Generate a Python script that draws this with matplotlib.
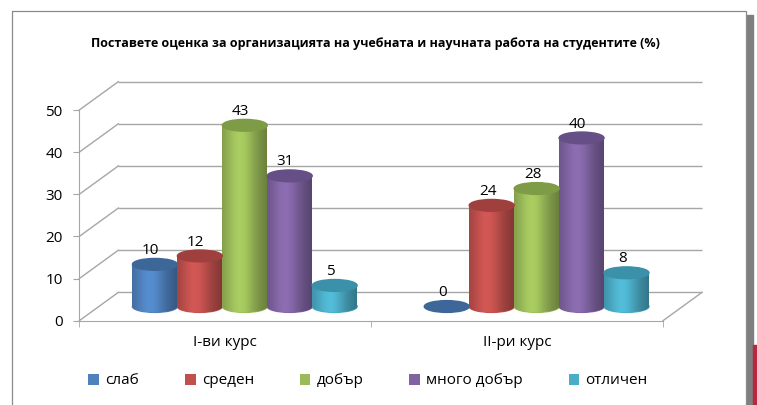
import numpy as np
import matplotlib.pyplot as plt
from matplotlib.patches import Ellipse, Patch, Rectangle
from matplotlib.lines import Line2D
from matplotlib.colors import to_rgb

plt.rcParams['font.family'] = ['Open Sans', 'DejaVu Sans']

title = 'Поставете оценка за организацията на учебната и научната работа на студентите (%)'
courses = ['I-ви курс', 'II-ри курс']
grades = ['слаб', 'среден', 'добър', 'много добър', 'отличен']
course1 = [10, 12, 43, 31, 5]
course2 = [0, 24, 28, 40, 8]
colors = ['#4F81BD', '#C0504D', '#9BBB59', '#8064A2', '#4BACC6']
tops = ['#3D6699', '#A0403E', '#7E9B45', '#664F86', '#3A91A9']
grid_col = '#a6a6a6'

W, H = 757, 405
fig = plt.figure(figsize=(W / 100, H / 100), dpi=100)
ax = fig.add_axes([79.3 / W, 84.3 / H, 583.7 / W, 210.7 / H])
ax.set_facecolor('none')

# depth offsets of back wall and of the bar row (data units)
bx, by = 0.134, 6.74
mx, my = bx / 2, by / 2
eh = 2.8     # ellipse height
w = 0.154    # bar width

# back wall grid + left diagonals + floor
yt = np.arange(0, 51, 10)
ax.hlines(yt + by, -0.5 + bx, 1.5 + bx, color=grid_col, lw=1, clip_on=False, zorder=1)
for v in yt:
    ax.plot([-0.5, -0.5 + bx], [v, v + by], color=grid_col, lw=1, clip_on=False, zorder=1)
ax.plot([1.5, 1.5 + bx], [0, by], color=grid_col, lw=1, clip_on=False, zorder=1)

t = np.linspace(0, 1, 64)
shade = 0.8 + 0.3 * np.exp(-((t - 0.4) / 0.32) ** 2) - 0.12 * t ** 4


def cylinder(xc, v, c, ctop):
    base = my
    if v > 0:
        rgb = np.array(to_rgb(c))
        img = np.clip(rgb[None, None, :] * shade[None, :, None], 0, 1)
        body = ax.bar(xc, v, w, bottom=base, color=c, zorder=3)[0]
        bot = Ellipse((xc, base), w, eh, color=c, zorder=3)
        ax.add_patch(bot)
        for p in (body, bot):
            im = ax.imshow(img, extent=[xc - w / 2, xc + w / 2, base - eh, base + v],
                           aspect='auto', zorder=3.5, interpolation='bilinear')
            im.set_clip_path(p)
    ax.add_patch(Ellipse((xc, base + v), w, eh, color=ctop, zorder=4))
    ax.annotate(str(v), (xc, base + v), xytext=(-3, 10), textcoords='offset points',
                ha='center', va='center', fontsize=11, zorder=6, annotation_clip=False)


for g, vals in enumerate([course1, course2]):
    for i, v in enumerate(vals):
        cylinder(g + mx + (i - 2) * w, v, colors[i], tops[i])

ax.set_xlim(-0.5, 1.5)
ax.set_ylim(0, 50)
for sp in ['top', 'right']:
    ax.spines[sp].set_visible(False)
for sp in ['left', 'bottom']:
    ax.spines[sp].set_color(grid_col)
ax.set_yticks(yt)
ax.tick_params(axis='y', length=4, color=grid_col, labelsize=11, pad=8)
ax.set_xticks([0, 1], courses)
ax.set_xticks([-0.5, 0.5, 1.5], minor=True)
ax.tick_params(axis='x', which='major', length=0, labelsize=11, pad=10)
ax.tick_params(axis='x', which='minor', length=4, color=grid_col)

fig.text(375 / W, 1 - 43 / H, title, ha='center', va='center', fontsize=9, weight='bold')

handles = [Patch(facecolor=c, label=g) for c, g in zip(colors, grades)]
fig.legend(handles=handles, loc='center', bbox_to_anchor=(368 / W, 1 - 381 / H), ncol=5,
           frameon=False, fontsize=11, handlelength=0.7, handleheight=0.7,
           handletextpad=0.4, columnspacing=3.0)

# chart border and page edge
fig.add_artist(Line2D([12 / W, 12 / W, 746 / W, 746 / W], [0, 1 - 11 / H, 1 - 11 / H, 0],
                      transform=fig.transFigure, color='#8a8a8a', lw=0.9))
fig.add_artist(Rectangle((747 / W, 0), 6 / W, 1 - 15 / H, transform=fig.transFigure,
                         color='#7f7f7f'))
fig.add_artist(Rectangle((753 / W, 0), 4 / W, 60 / H, transform=fig.transFigure,
                         color='#b8283f'))

fig.savefig('out.png', dpi=100)
